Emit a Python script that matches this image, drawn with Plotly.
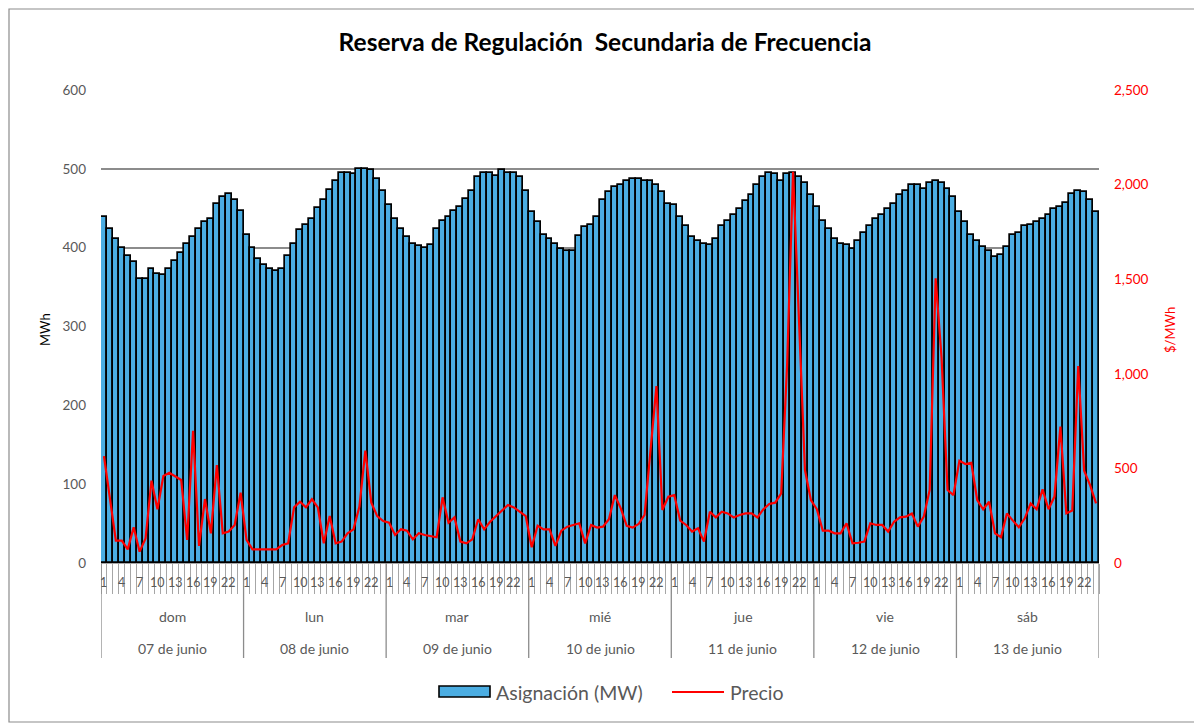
import plotly.graph_objects as go

days = ["dom", "lun", "mar", "mié", "jue", "vie", "sáb"]
dates = ["07 de junio", "08 de junio", "09 de junio", "10 de junio",
         "11 de junio", "12 de junio", "13 de junio"]
hour_labels_shown = [1, 4, 7, 10, 13, 16, 19, 22]

asignacion_dom = [439, 424, 411, 400, 390, 382, 360, 360, 373, 367, 365, 373, 383, 393, 405, 414, 424, 432, 437, 455, 464, 468, 460, 447]
asignacion_lun = [416, 399, 386, 378, 373, 370, 373, 389, 405, 422, 429, 437, 450, 460, 473, 485, 495, 495, 493, 500, 500, 498, 487, 472]
asignacion_mar = [454, 436, 424, 413, 405, 402, 400, 403, 424, 434, 439, 446, 452, 462, 472, 490, 495, 495, 491, 498, 495, 495, 490, 472]
asignacion_mie = [445, 432, 416, 411, 405, 398, 396, 396, 415, 426, 429, 439, 460, 470, 477, 480, 485, 487, 487, 485, 485, 480, 470, 455]
asignacion_jue = [454, 439, 427, 413, 408, 405, 403, 411, 427, 434, 441, 449, 459, 467, 480, 490, 495, 493, 485, 493, 495, 490, 482, 467]
asignacion_vie = [452, 434, 424, 411, 405, 403, 398, 409, 418, 428, 436, 441, 449, 455, 467, 472, 480, 480, 474, 482, 485, 482, 474, 464]
asignacion_sab = [445, 432, 416, 409, 401, 396, 388, 391, 401, 416, 419, 427, 429, 432, 436, 441, 449, 451, 457, 468, 472, 470, 460, 445]

precio_dom = [565, 342, 118, 118, 72, 189, 60, 130, 435, 284, 460, 477, 456, 439, 122, 699, 90, 338, 157, 518, 157, 166, 201, 372]
precio_lun = [122, 72, 72, 72, 72, 72, 95, 104, 294, 324, 294, 337, 294, 104, 248, 104, 113, 157, 178, 298, 594, 319, 248, 222]
precio_mar = [213, 148, 178, 171, 125, 157, 148, 144, 136, 347, 213, 241, 113, 104, 125, 231, 178, 218, 248, 280, 307, 294, 271, 248]
precio_mie = [83, 197, 178, 178, 90, 171, 192, 201, 210, 104, 201, 187, 192, 231, 359, 289, 196, 187, 206, 254, 576, 935, 280, 350]
precio_jue = [359, 224, 201, 166, 183, 113, 271, 241, 271, 262, 241, 254, 262, 262, 241, 284, 312, 319, 368, 1050, 2068, 1258, 491, 333]
precio_vie = [284, 171, 171, 157, 157, 210, 104, 107, 113, 210, 201, 201, 166, 218, 241, 245, 262, 192, 245, 386, 1505, 1083, 386, 359]
precio_sab = [541, 523, 530, 333, 284, 324, 157, 136, 262, 224, 189, 236, 315, 284, 389, 284, 351, 721, 262, 277, 1041, 488, 412, 315]

asignacion = (asignacion_dom + asignacion_lun + asignacion_mar + asignacion_mie
              + asignacion_jue + asignacion_vie + asignacion_sab)
precio = (precio_dom + precio_lun + precio_mar + precio_mie
          + precio_jue + precio_vie + precio_sab)

n = len(asignacion)
x = list(range(n))

FONT = "Lato, Carlito, Calibri, sans-serif"
GRAY = "#595959"
BLUE = "#4BADE2"
RED = "#FF0000"

fig = go.Figure()
fig.add_trace(go.Bar(
    x=x, y=asignacion, name="Asignación (MW)",
    marker=dict(color=BLUE, line=dict(color="black", width=1.7)),
    width=1.0, showlegend=False,
))
fig.add_trace(go.Scatter(
    x=x, y=precio, name="Precio", yaxis="y2", mode="lines",
    line=dict(color=RED, width=2.2), showlegend=False,
))

# The page body adds an 8px margin, so the figure is drawn 8px smaller
# and all reference pixel positions are shifted by OFF.
OFF = 8
W, H = 1202 - OFF, 728 - OFF
L, R, T, B = 101 - OFF, 1099 - OFF, 90 - OFF, 563 - OFF
PH = B - T
PW = R - L

def py(v):
    return (B - (v - OFF)) / PH

def px(v):
    return ((v - OFF) - L) / PW

shapes = []
annotations = []

# day separators
for k in range(len(days) + 1):
    shapes.append(dict(type="line", xref="x", yref="paper",
                       x0=24 * k - 0.5, x1=24 * k - 0.5, y0=0, y1=py(658),
                       line=dict(color="#8C8C8C", width=1.3)))

# hour labels, day names, dates
for d in range(len(days)):
    for h in hour_labels_shown:
        annotations.append(dict(x=24 * d + h - 1, y=py(582), xref="x", yref="paper",
                                text=str(h), showarrow=False, yanchor="middle",
                                font=dict(family=FONT, size=12.5, color=GRAY)))
    annotations.append(dict(x=24 * d + 11.5, y=py(616), xref="x", yref="paper",
                            text=days[d], showarrow=False, yanchor="middle",
                            font=dict(family=FONT, size=14, color=GRAY)))
    annotations.append(dict(x=24 * d + 11.5, y=py(648), xref="x", yref="paper",
                            text=dates[d], showarrow=False, yanchor="middle",
                            font=dict(family=FONT, size=14, color=GRAY)))

# axis titles
annotations.append(dict(x=px(45), y=py(330), xref="paper", yref="paper",
                        text="MWh", textangle=-90, showarrow=False,
                        xanchor="center", yanchor="middle",
                        font=dict(family=FONT, size=13, color="black")))
annotations.append(dict(x=px(1170), y=py(330), xref="paper", yref="paper",
                        text="$/MWh", textangle=-90, showarrow=False,
                        xanchor="center", yanchor="middle",
                        font=dict(family=FONT, size=13, color=RED)))

# legend (drawn)
shapes.append(dict(type="rect", xref="paper", yref="paper",
                   x0=px(439), x1=px(490), y0=py(697), y1=py(686),
                   fillcolor=BLUE, line=dict(color="black", width=1.6)))
annotations.append(dict(x=px(494), y=py(692), xref="paper", yref="paper",
                        text="Asignación (MW)", showarrow=False,
                        xanchor="left", yanchor="middle",
                        font=dict(family=FONT, size=19.5, color=GRAY)))
shapes.append(dict(type="line", xref="paper", yref="paper",
                   x0=px(672), x1=px(724), y0=py(692), y1=py(692),
                   line=dict(color=RED, width=2.2)))
annotations.append(dict(x=px(728), y=py(692), xref="paper", yref="paper",
                        text="Precio", showarrow=False,
                        xanchor="left", yanchor="middle",
                        font=dict(family=FONT, size=19.5, color=GRAY)))

# outer border
shapes.append(dict(type="rect", xref="paper", yref="paper",
                   x0=px(OFF + 1), x1=px(1196), y0=py(722), y1=py(OFF + 1),
                   line=dict(color="#8C8C8C", width=1.2), layer="below"))

tickvals = [i - 0.5 for i in range(n + 1)]

fig.update_layout(
    width=W, height=H,
    margin=dict(l=L, r=W - R, t=T, b=H - B, autoexpand=False),
    paper_bgcolor="white", plot_bgcolor="white",
    font=dict(family=FONT, color=GRAY),
    title=dict(text="<b>Reserva de Regulación  Secundaria de Frecuencia</b>",
               x=(605 - OFF) / W, xanchor="center", xref="container",
               y=1 - (42 - OFF) / H, yanchor="middle",
               font=dict(family=FONT, size=24.5, color="black")),
    bargap=0,
    showlegend=False,
    xaxis=dict(range=[-0.5, n - 0.5], tickvals=tickvals, ticktext=[""] * len(tickvals),
               ticks="outside", ticklen=30, tickcolor="#A6A6A6", tickwidth=1,
               showgrid=False, zeroline=False, showline=True, linecolor="#A6A6A6",
               linewidth=1),
    yaxis=dict(range=[0, 600], dtick=100, showgrid=True, gridcolor="#8C8C8C",
               gridwidth=1.6, zeroline=False, showline=False, ticks="",
               ticklabelstandoff=14,
               tickfont=dict(family=FONT, size=13.5, color=GRAY)),
    yaxis2=dict(range=[0, 2500], dtick=500, overlaying="y", side="right",
                showgrid=False, zeroline=False, showline=False, ticks="",
                tickformat=",", ticklabelstandoff=14,
                tickfont=dict(family=FONT, size=13.5, color=RED)),
    shapes=shapes,
    annotations=annotations,
)

fig.write_html("out.html")
